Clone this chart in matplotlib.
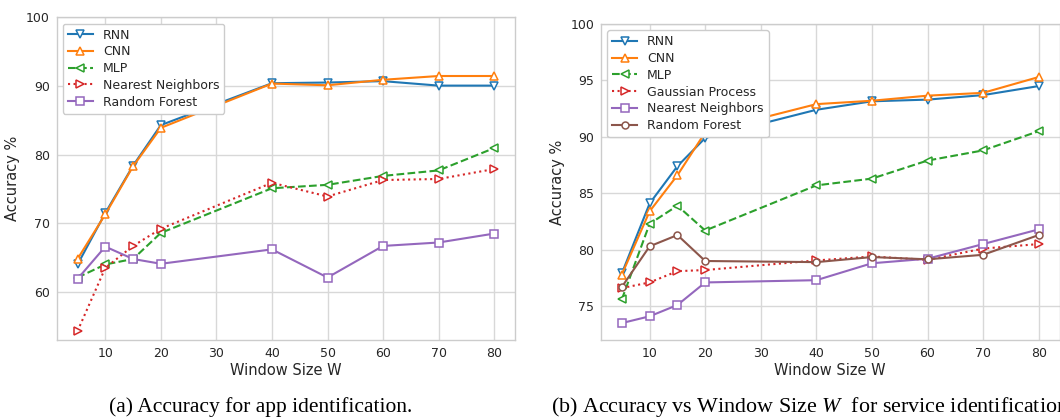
import matplotlib
matplotlib.use("Agg")
import matplotlib.pyplot as plt

# window sizes
W = [5, 10, 15, 20, 40, 50, 60, 70, 80]

# (a) app identification
app_rnn = [64.0, 71.5, 78.4, 84.3, 90.4, 90.5, 90.7, 90.05, 90.05]
app_cnn = [64.8, 71.3, 78.3, 83.9, 90.35, 90.1, 90.9, 91.45, 91.45]
app_mlp = [62.1, 64.0, 64.8, 68.6, 75.1, 75.6, 76.9, 77.7, 80.95]
app_knn = [54.3, 63.5, 66.7, 69.2, 75.9, 73.9, 76.3, 76.45, 77.9]
app_rf = [61.9, 66.6, 64.8, 64.1, 66.2, 62.1, 66.7, 67.2, 68.5]

# (b) service identification
srv_rnn = [77.9, 84.1, 87.4, 89.9, 92.4, 93.15, 93.3, 93.7, 94.5]
srv_cnn = [77.8, 83.4, 86.6, 90.4, 92.9, 93.2, 93.65, 93.9, 95.3]
srv_mlp = [75.6, 82.3, 83.9, 81.7, 85.7, 86.3, 87.9, 88.8, 90.5]
srv_gp = [76.6, 77.1, 78.1, 78.2, 79.05, 79.4, 79.1, 80.1, 80.5]
srv_knn = [73.5, 74.1, 75.1, 77.1, 77.3, 78.8, 79.2, 80.5, 81.8]
srv_rf = [76.7, 80.3, 81.3, 79.0, 78.9, 79.35, 79.15, 79.55, 81.3]

plt.rcParams['font.family'] = ['DejaVu Sans']
plt.rcParams['text.color'] = '#262626'
plt.rcParams['axes.labelcolor'] = '#262626'
plt.rcParams['xtick.color'] = '#262626'
plt.rcParams['ytick.color'] = '#262626'
# math italic in the captions uses the serif face
plt.rcParams['mathtext.fontset'] = 'custom'
plt.rcParams['mathtext.it'] = 'Liberation Serif:italic'
plt.rcParams['mathtext.rm'] = 'Liberation Serif'

FW, FH = 1060, 420
fig = plt.figure(figsize=(FW / 100, FH / 100), dpi=100)


def box(l, t, r, b):
    return [l / FW, 1 - b / FH, (r - l) / FW, (b - t) / FH]


def style(ax):
    ax.set_facecolor('white')
    for s in ax.spines.values():
        s.set_color('#cccccc')
        s.set_linewidth(1.0)
    ax.grid(True, color='#d8d8d8', linewidth=1.0)
    ax.set_axisbelow(True)
    ax.tick_params(length=0, pad=5, labelsize=9)
    ax.set_xticks([10, 20, 30, 40, 50, 60, 70, 80])
    ax.set_xlabel('Window Size W', fontsize=10.5, labelpad=2)
    ax.set_ylabel('Accuracy %', fontsize=10.5)


mk = dict(markerfacecolor='white', markersize=5.5, markeredgewidth=1.1, linewidth=1.5)

ax1 = fig.add_axes(box(56.7, 17.3, 515, 340))
ax1.plot(W, app_rnn, '-', marker='v', color='#1f77b4', label='RNN', **mk)
ax1.plot(W, app_cnn, '-', marker='^', color='#ff7f0e', label='CNN', **mk)
ax1.plot(W, app_mlp, '--', marker='<', color='#2ca02c', label='MLP', **mk)
ax1.plot(W, app_knn, ':', marker='>', color='#d62728', label='Nearest Neighbors', **mk)
ax1.plot(W, app_rf, '-', marker='s', color='#9467bd', label='Random Forest', **mk)
ax1.set_ylim(53, 100)
ax1.set_yticks([60, 70, 80, 90, 100])
style(ax1)
ax1.legend(loc='upper left', fontsize=9, framealpha=1, edgecolor='#cccccc',
           handlelength=2.0, labelspacing=0.3, borderpad=0.4)

ax2 = fig.add_axes(box(601, 24, 1059.5, 340))
ax2.plot(W, srv_rnn, '-', marker='v', color='#1f77b4', label='RNN', **mk)
ax2.plot(W, srv_cnn, '-', marker='^', color='#ff7f0e', label='CNN', **mk)
ax2.plot(W, srv_mlp, '--', marker='<', color='#2ca02c', label='MLP', **mk)
ax2.plot(W, srv_gp, ':', marker='>', color='#d62728', label='Gaussian Process', **mk)
ax2.plot(W, srv_knn, '-', marker='s', color='#9467bd', label='Nearest Neighbors', **mk)
ax2.plot(W, srv_rf, '-', marker='o', color='#8c564b', label='Random Forest',
         markerfacecolor='white', markersize=5, markeredgewidth=1.1, linewidth=1.5)
ax2.set_ylim(72, 100)
ax2.set_yticks([75, 80, 85, 90, 95, 100])
style(ax2)
ax2.legend(loc='upper left', fontsize=9, framealpha=1, edgecolor='#cccccc',
           handlelength=2.0, labelspacing=0.3, borderpad=0.4)

fig.text(261 / FW, 1 - 407 / FH, '(a) Accuracy for app identification.',
         family='Liberation Serif', fontsize=15.5, color='black', ha='center', va='center')
fig.text(551 / FW, 1 - 407 / FH, '(b) Accuracy vs Window Size $W$  for service identification.',
         family='Liberation Serif', fontsize=15.8, color='black', ha='left', va='center')

fig.savefig('out.png', dpi=100, facecolor='white')
